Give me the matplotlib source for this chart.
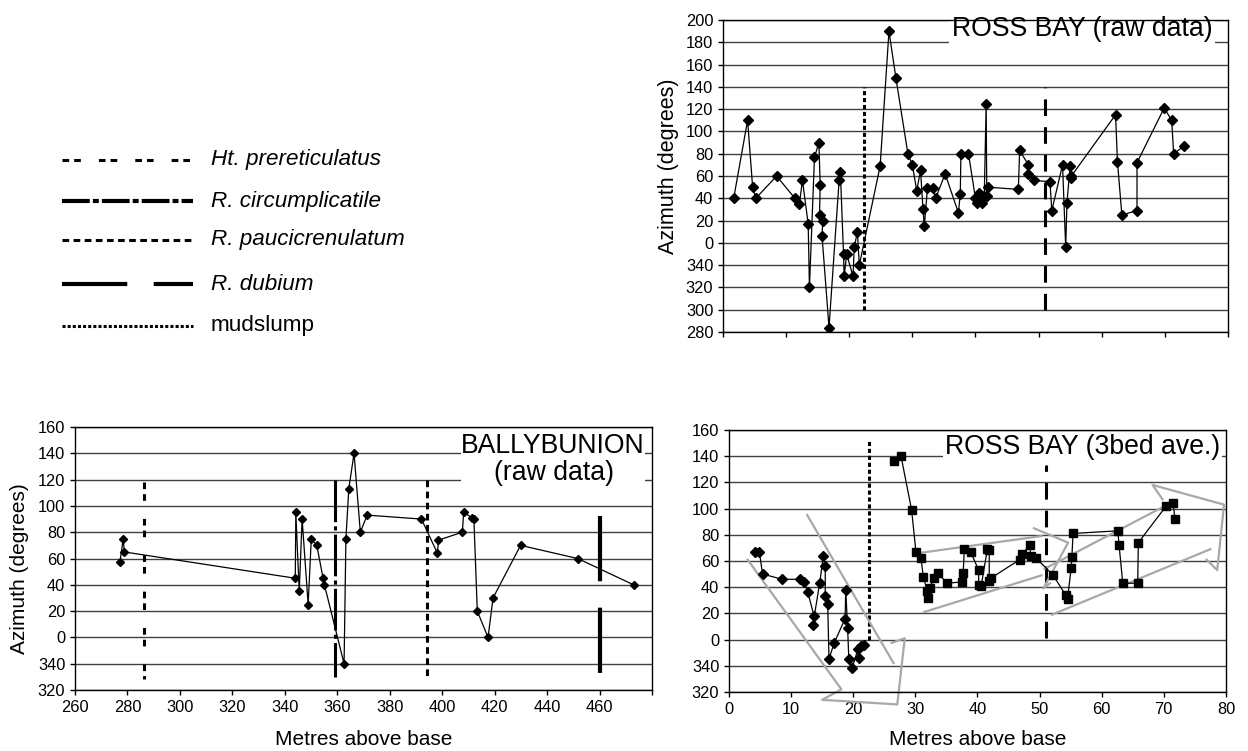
import matplotlib
matplotlib.use("Agg")
import matplotlib.pyplot as plt
from matplotlib.ticker import FuncFormatter
from matplotlib.patches import Rectangle

plt.rcParams['font.family'] = ['Liberation Sans', 'DejaVu Sans']
plt.rcParams['lines.scale_dashes'] = False

# ROSS BAY raw data: metres above base / azimuth (negative = 360 - x)
ross_raw_m = [1.7, 3.9, 4.7, 5.2, 8.5, 11.4, 12.1, 12.6, 13.5, 13.7, 14.5, 15.2, 15.4,
              15.3, 15.8, 15.7, 16.8, 18.4, 18.6, 19.1, 19.2, 19.6, 20.6, 20.8, 21.3,
              21.6, 24.9, 26.3, 27.4, 29.3, 30.0, 30.7, 31.3, 31.7, 31.9, 32.4, 33.2,
              33.7, 35.2, 37.3, 37.6, 37.7, 38.9, 40.0, 40.2, 40.6, 41.0, 41.4, 41.7,
              41.8, 42.0, 46.8, 47.0, 48.4, 48.4, 49.2, 51.8, 52.1, 53.8, 54.3, 54.5,
              55.0, 55.1, 55.2, 62.2, 62.5, 63.2, 65.6, 65.6, 69.9, 71.1, 71.4, 73.1]
ross_raw_az = [40, 110, 50, 40, 60, 40, 35, 56, 17, -40, 77, 90, 52,
               25, 20, 6, -76, 56, 64, -10, -30, -10, -30, -4, 10,
               -20, 69, 190, 148, 80, 70, 47, 65, 30, 15, 49, 49,
               40, 62, 27, 44, 80, 80, 40, 36, 45, 36, 42, 125,
               42, 50, 48, 83, 70, 62, 56, 55, 29, 70, -4, 36,
               69, 58, 60, 115, 73, 25, 29, 72, 121, 110, 80, 87]

# BALLYBUNION raw data
bally_m = [277.1, 278.4, 278.8, 344.0, 344.2, 345.5, 346.6, 348.9, 350.1, 352.2, 354.6,
           355.1, 362.6, 363.3, 364.4, 366.4, 368.8, 371.4, 392.1, 398.2, 398.6, 407.7,
           408.2, 411.4, 412.1, 413.4, 417.5, 419.4, 429.9, 451.7, 473.0]
bally_az = [57, 75, 65, 45, 95, 35, 90, 25, 75, 70, 45,
            40, -20, 75, 113, 140, 80, 93, 90, 64, 74, 80,
            95, 91, 90, 20, 0, 30, 70, 60, 40]

# ROSS BAY 3-bed averages (below and above the mudslump)
ross_ave_low_m = [4.2, 4.9, 5.4, 8.6, 11.4, 12.1, 12.7, 13.7, 13.5, 14.6, 15.2, 15.5, 15.5,
                  15.9, 16.1, 16.9, 18.7, 18.8, 19.1, 19.3, 19.8, 20.8, 20.9, 21.3, 21.7]
ross_ave_low_az = [67, 67, 50, 46, 46, 44, 36, 18, 11, 43, 64, 56, 33,
                   27, -15, -3, 16, 38, 9, -15, -22, -7, -14, -5, -4]
ross_ave_high_m = [26.5, 27.7, 29.4, 30.1, 30.9, 31.3, 31.9, 32.0, 32.3, 33.0, 33.6, 35.1,
                   37.5, 37.7, 37.9, 38.9, 40.2, 40.2, 40.6, 41.6, 41.9, 41.9, 42.2, 46.8,
                   47.2, 48.4, 48.6, 49.5, 52.2, 54.2, 54.5, 55.1, 55.2, 55.4, 62.6, 62.8,
                   63.4, 65.8, 65.9, 70.4, 71.5, 71.8]
ross_ave_high_az = [136, 140, 99, 67, 62, 48, 37, 32, 39, 47, 51, 43,
                    44, 51, 69, 67, 53, 42, 41, 69, 68, 45, 47, 61,
                    65, 72, 64, 62, 49, 34, 31, 55, 63, 81, 83, 72,
                    43, 43, 74, 102, 104, 92]

# grey trend arrows drawn on the 3-bed average plot
arrow_lines = [
    ([3.0, 18.1, 15.0, 27.1, 28.3, 26.2], [61, -38, -46, -49.5, 1, -2.5]),
    ([12.6, 26.5], [95, -18]),
    ([30.5, 50.3], [66, 79]),
    ([49.1, 54.6, 50.6, 51.7], [85, 74, 39, 43]),
    ([31.4, 50.3], [21, 49]),
    ([50.8, 71.0], [54, 104]),
    ([52.0, 77.5], [19, 69]),
    ([69.8, 68.2, 79.7, 78.6, 76.9], [107, 118, 103, 53, 61]),
]

# marker horizons (metres)
ross_mudslump = 22.3
ross_dubium = 51.0
ross_ave_mudslump = 22.5
ross_ave_dubium = 51.0
bally_ht = 286.4
bally_circ = 359.3
bally_pauc = 394.2
bally_dub = 460.0

legend_names = ["Ht. prereticulatus", "R. circumplicatile", "R. paucicrenulatum",
                "R. dubium", "mudslump"]
legend_italic = [True, True, True, True, False]

# line styles (dashes in points)
ht_style = dict(color='k', lw=2.2, dashes=(4.8, 3.6, 4.8, 13))
circ_style = dict(color='k', lw=3, dashes=(20, 2.2, 4.3, 2.2))
pauc_style = dict(color='k', lw=2.2, dashes=(4.8, 3.2))
dub_style = dict(color='k', lw=3, dashes=(47, 19))
mud_style = dict(color='k', lw=2.2, dashes=(2.2, 1.5))
legend_styles = [ht_style, circ_style, pauc_style, dub_style, mud_style]

circ_plot_style = dict(color='k', lw=2.2, dashes=(30, 3, 3, 3))
dub_plot_style = dict(color='k', lw=2.2, dashes=(12, 8))
mud_plot_style = dict(color='k', lw=2.2, dashes=(3, 2))
arrow_style = dict(color='#a8a8a8', lw=1.6, clip_on=False, zorder=2.5)

TICK_FS = 11.8
LABEL_FS = 15
TITLE_FS = 19.2


def az_fmt(v, pos):
    return "%d" % (round(v) % 360)


def setup(ax, ylo, yhi):
    ax.set_ylim(ylo, yhi)
    ax.set_yticks(range(ylo, yhi + 1, 20))
    ax.yaxis.set_major_formatter(FuncFormatter(az_fmt))
    ax.set_axisbelow(True)
    ax.yaxis.grid(True, color='#404040', lw=1.0)
    for s in ax.spines.values():
        s.set_linewidth(1.0)
        s.set_zorder(5)
    ax.tick_params(direction='out', length=3.5, width=1, labelsize=TICK_FS, pad=3.5)


fig = plt.figure(figsize=(12.48, 7.51), dpi=100)

# ---- top right: ROSS BAY raw
ax1 = fig.add_axes([0.5793, 0.5579, 0.4046, 0.4154])
setup(ax1, -80, 200)
ax1.set_xlim(0, 80)
ax1.set_xticks(range(0, 81, 10))
ax1.tick_params(labelbottom=False)
ax1.plot(ross_raw_m, ross_raw_az, '-', color='k', lw=0.9, marker='D', ms=5.5, zorder=3)
ax1.plot([ross_mudslump, ross_mudslump], [-60, 140], **mud_plot_style)
ax1.plot([ross_dubium, ross_dubium], [-60, 140], **dub_plot_style)
ax1.text(77.6, 185.5, "ROSS BAY (raw data)", ha='right', va='baseline', fontsize=TITLE_FS,
         bbox=dict(fc='white', ec='none', pad=2), zorder=4)
ax1.set_ylabel("Azimuth (degrees)", fontsize=LABEL_FS + 0.5)
ax1.yaxis.set_label_coords(-0.087, 0.53)

# ---- bottom left: BALLYBUNION raw
ax2 = fig.add_axes([0.0601, 0.0812, 0.4623, 0.3502])
setup(ax2, -40, 160)
ax2.set_xlim(260, 480)
ax2.set_xticks(range(260, 481, 20))
ax2.xaxis.set_major_formatter(FuncFormatter(lambda v, p: "" if v >= 480 else "%d" % v))
ax2.plot(bally_m, bally_az, '-', color='k', lw=0.9, marker='D', ms=3.6, zorder=3)
ax2.plot([bally_ht, bally_ht], [118, -32], **ht_style)
ax2.plot([bally_circ, bally_circ], [120, -30], **circ_plot_style)
ax2.plot([bally_pauc, bally_pauc], [120, -30], **pauc_style)
ax2.plot([bally_dub, bally_dub], [92, -30], **dub_style)
ax2.add_patch(Rectangle((407, 108.5), 70.5, 49, fc='white', ec='none', zorder=2.6))
ax2.text(442.1, 140.4, "BALLYBUNION", ha='center', va='baseline', fontsize=TITLE_FS, zorder=4)
ax2.text(442.6, 120.0, "(raw data)", ha='center', va='baseline', fontsize=TITLE_FS, zorder=4)
ax2.set_ylabel("Azimuth (degrees)", fontsize=LABEL_FS)
ax2.yaxis.set_label_coords(-0.0797, 0.46)
ax2.set_xlabel("Metres above base", fontsize=LABEL_FS)
ax2.xaxis.set_label_coords(0.5, -0.151)

# ---- bottom right: ROSS BAY 3 bed average
ax3 = fig.add_axes([0.5841, 0.0786, 0.3982, 0.3489])
setup(ax3, -40, 160)
ax3.set_xlim(0, 80)
ax3.set_xticks(range(0, 81, 10))
for xs, ys in arrow_lines:
    ax3.plot(xs, ys, **arrow_style)
ax3.plot(ross_ave_low_m, ross_ave_low_az, '-', color='k', lw=0.9, marker='D', ms=5.3, zorder=3)
ax3.plot(ross_ave_high_m, ross_ave_high_az, '-', color='k', lw=0.9, marker='s', ms=5.3, zorder=3)
ax3.plot([ross_ave_mudslump, ross_ave_mudslump], [0, 152], **mud_plot_style)
ax3.plot([ross_ave_dubium, ross_ave_dubium], [1, 133], **dub_plot_style)
ax3.text(79.1, 141.5, "ROSS BAY (3bed ave.)", ha='right', va='baseline', fontsize=TITLE_FS,
         bbox=dict(fc='white', ec='none', pad=1.5), zorder=4)
ax3.set_xlabel("Metres above base", fontsize=LABEL_FS)
ax3.xaxis.set_label_coords(0.5, -0.144)

# ---- legend (pixel coordinates)
lg = fig.add_axes([0, 0, 1, 1], zorder=-1)
lg.set_xlim(0, 1248)
lg.set_ylim(751, 0)
lg.axis('off')
legend_rows = [160, 201, 240, 284, 326]
for yrow, name, ital, sty in zip(legend_rows, legend_names, legend_italic, legend_styles):
    lg.plot([62, 193], [yrow, yrow], **sty)
    lg.text(211, yrow, name, ha='left', va='center', fontsize=16.2,
            style='italic' if ital else 'normal')

fig.savefig("out.png", dpi=100)
